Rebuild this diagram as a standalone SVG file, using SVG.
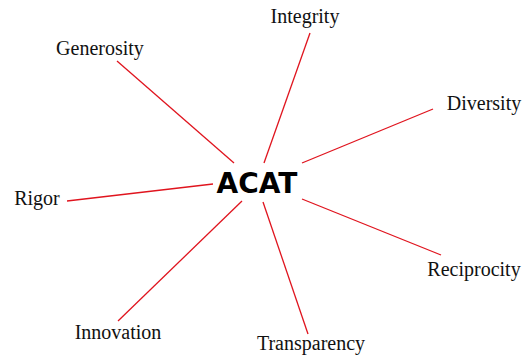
<svg xmlns="http://www.w3.org/2000/svg" width="525" height="357" viewBox="0 0 525 357">
<style>
.lbl{font-family:"Liberation Serif","Times New Roman",serif;font-size:20px;fill:#111;text-anchor:middle}
.hub{font-family:"DejaVu Sans",Verdana,sans-serif;font-weight:bold;font-size:28px;fill:#000;text-anchor:middle}
.edge{stroke:#e0141e;stroke-width:1.3;fill:none}
</style>
<rect width="525" height="357" fill="#fff"/>
<g id="connectors">
<line class="edge" x1="310" y1="33" x2="264" y2="163"/>
<line class="edge" x1="117" y1="61" x2="234" y2="163"/>
<line class="edge" x1="433" y1="109" x2="302" y2="163"/>
<line class="edge" x1="67" y1="201" x2="213" y2="184"/>
<line class="edge" x1="118" y1="321" x2="242" y2="201"/>
<line class="edge" x1="308" y1="334" x2="263" y2="202"/>
<line class="edge" x1="441" y1="255" x2="302" y2="199"/>
</g>
<g id="acat"><text class="hub" x="257" y="193">ACAT</text></g>
<g id="integrity"><text class="lbl" x="305" y="23">Integrity</text></g>
<g id="generosity"><text class="lbl" x="100" y="55">Generosity</text></g>
<g id="diversity"><text class="lbl" x="484" y="110">Diversity</text></g>
<g id="rigor"><text class="lbl" x="37" y="205">Rigor</text></g>
<g id="innovation"><text class="lbl" x="118" y="339">Innovation</text></g>
<g id="transparency"><text class="lbl" x="311" y="350">Transparency</text></g>
<g id="reciprocity"><text class="lbl" x="474" y="276">Reciprocity</text></g>
</svg>
